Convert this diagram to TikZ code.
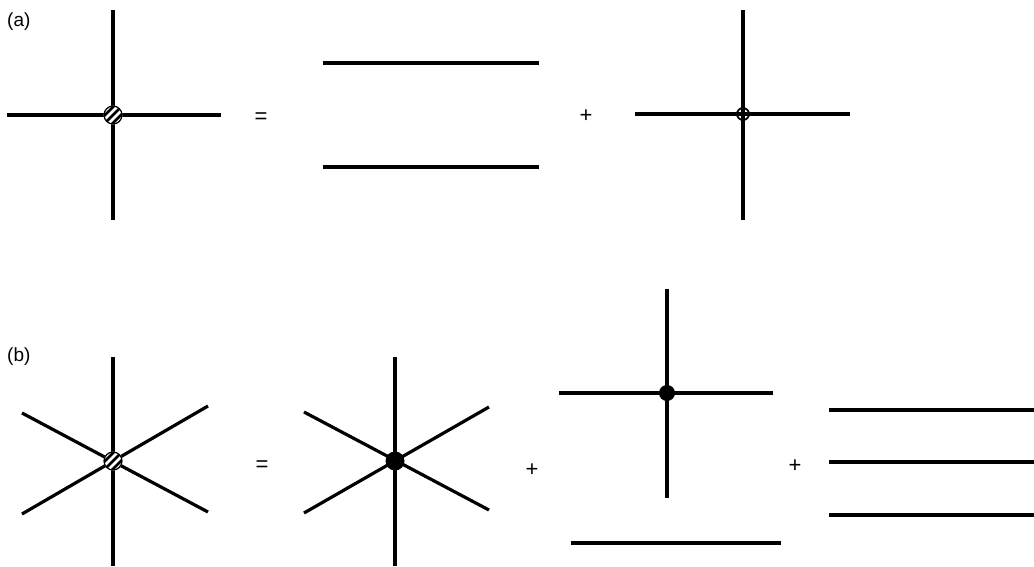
\documentclass[tikz,border=0pt]{standalone}
\usepackage{fontspec}
\setmainfont{Liberation Sans}
\usetikzlibrary{positioning, calc}

\tikzset{
  leg/.style={line width=3.2pt, line cap=butt},
  blob/.style={circle, fill=black, inner sep=0pt, minimum size=19pt},
  ring/.style={circle, draw, line width=1.8pt, inner sep=0pt, minimum size=12pt},
  hatch/.style={circle, fill=white, inner sep=0pt, minimum size=19pt},
  sym/.style={font=\fontsize{22}{24}\selectfont, inner sep=0pt},
  lbl/.style={font=\fontsize{19}{21}\selectfont, inner sep=0pt, anchor=west}
}

% hatched vertex: a circle with a few slanted stripes
\newcommand{\hatchvertex}[2]{%
  \node[hatch] (#1) at (#2) {};
  \begin{scope}
    \clip (#1.center) circle (9pt);
    \foreach \d in {-8,0,8}
      \draw[line width=2.6pt] ($(#1.center)+(\d-12,12)$) -- ++(24,-24);
  \end{scope}
  \draw[line width=1.2pt] (#1.center) circle (9pt);
}

\begin{document}
\begin{tikzpicture}[x=1pt, y=-1pt]
  \useasboundingbox (0,0) rectangle (1034,566);

  % (a) four-point vertex
  \node[lbl] (la) at (7,22) {(a)};
  \coordinate (aw) at (7,115);   \coordinate (ae) at (221,115);
  \coordinate (an) at (113,10);  \coordinate (as) at (113,220);
  \draw[leg] (aw) -- (ae);
  \draw[leg] (an) -- (as);
  \hatchvertex{va}{113,115}
  \node[sym] (eqa) at (261,118) {=};

  % two free lines
  \coordinate (p1) at (323,63);  \coordinate (p2) at (539,63);
  \coordinate (q1) at (323,167); \coordinate (q2) at (539,167);
  \draw[leg] (p1) -- (p2);
  \draw[leg] (q1) -- (q2);
  \node[sym] (pla) at (586,116) {+};

  % connected part
  \coordinate (cw) at (635,114); \coordinate (ce) at (850,114);
  \coordinate (cn) at (743,10);  \coordinate (cs) at (743,220);
  \draw[leg] (cw) -- (ce);
  \draw[leg] (cn) -- (cs);
  \node[ring] (vc) at (743,114) {};

  % (b) six-point vertex
  \node[lbl] (lb) at (7,357) {(b)};
  \coordinate (bn) at (113,357);  \coordinate (bs) at (113,566);
  \coordinate (b1) at (22,413);   \coordinate (b2) at (208,512);
  \coordinate (b3) at (22,514);   \coordinate (b4) at (208,406);
  \draw[leg] (bn) -- (bs);
  \draw[leg] (b1) -- (b2);
  \draw[leg] (b3) -- (b4);
  \hatchvertex{vb}{113,461}
  \node[sym] (eqb) at (262,466) {=};

  % connected six-point vertex
  \coordinate (dn) at (395,357);  \coordinate (ds) at (395,566);
  \coordinate (d1) at (304,412);  \coordinate (d2) at (489,510);
  \coordinate (d3) at (304,513);  \coordinate (d4) at (489,407);
  \draw[leg] (dn) -- (ds);
  \draw[leg] (d1) -- (d2);
  \draw[leg] (d3) -- (d4);
  \node[blob] (vd) at (395,461) {};
  \node[sym] (plb) at (532,470) {+};

  % four-point vertex times free line
  \coordinate (fw) at (559,393);  \coordinate (fe) at (773,393);
  \coordinate (fn) at (667,289);  \coordinate (fs) at (667,498);
  \draw[leg] (fw) -- (fe);
  \draw[leg] (fn) -- (fs);
  \node[blob, minimum size=16pt] (vf) at (667,393) {};
  \coordinate (g1) at (571,543);  \coordinate (g2) at (781,543);
  \draw[leg] (g1) -- (g2);
  \node[sym] (plc) at (795,466) {+};

  % three free lines
  \foreach \y [count=\i] in {410,462,515} {
    \coordinate (h\i w) at (829,\y);
    \coordinate (h\i e) at (1034,\y);
    \draw[leg] (h\i w) -- (h\i e);
  }
\end{tikzpicture}
\end{document}
